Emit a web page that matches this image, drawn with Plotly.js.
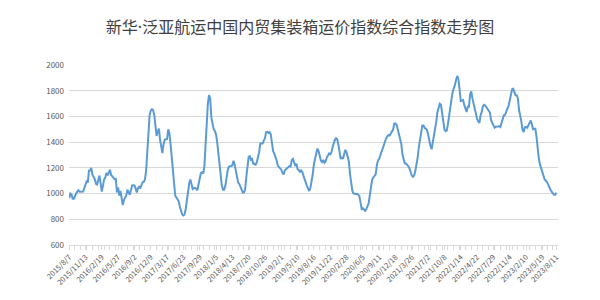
<!DOCTYPE html>
<html>
<head>
<meta charset="utf-8">
<script src="https://cdn.plot.ly/plotly-3.0.1.min.js"></script>
<style>html,body{margin:0;padding:0;background:#fff;}#chart{width:600px;height:300px;}</style>
</head>
<body>
<div id="chart"></div>
<script>
// Chart title
const chartTitle = '新华·泛亚航运中国内贸集装箱运价指数综合指数走势图';

// Weekly publication dates start (every Friday), first and last dates
const firstDate = '2015-08-07';
const lastDate = '2023-08-11';

// Composite index values, one per week
const indexValues = [
963,1000,993,960,960,985,1000,1015,1025,1014,1013,1013,1015,1043,1075,1095,1085,1178,1180,1200,
1145,1133,1112,1075,1070,1105,1140,1080,1015,1060,1110,1125,1160,1142,1158,1185,1145,1133,1128,1112,
1115,1010,1049,985,1020,960,910,950,976,985,1030,1002,990,1025,1064,1065,1063,1040,1008,1042,
1054,1040,1070,1088,1090,1110,1175,1290,1460,1610,1645,1655,1650,1610,1495,1448,1483,1505,1418,1368,
1314,1385,1418,1422,
1423,1500,1470,1385,1290,1150,1060,985,970,952,940,895,855,838,830,838,880,960,1000,1080,
1110,1055,1035,1042,1045,1038,1025,1070,1135,1160,1166,1155,1210,1380,1560,1700,1765,1740,1590,1545,
1500,1487,1460,1400,1300,1215,1120,1060,1029,1029,1060,1130,1180,1208,1215,1215,1218,1255,1225,1175,
1130,1085,1075,1055,1030,1008,1010,1030,1130,1220,1285,1290,1262,1270,1231,1231,1224,1245,1280,1320,
1390,1390,1390,1412,
1430,1478,1480,1472,1478,1460,1385,1330,1310,1290,1258,1218,1205,1198,1186,1162,1148,1180,1192,1198,
1205,1213,1210,1260,1270,1235,1215,1232,1190,1184,1166,1180,1170,1140,1110,1082,1060,1040,1020,1045,
1095,1150,1230,1267,1320,1350,1330,1280,1255,1245,1262,1240,1250,1280,1295,1312,1305,1320,1360,1395,
1418,1430,1422,1380,1300,1268,1285,1270,1310,1340,1320,1290,1250,1150,1065,1020,1000,996,996,997,
993,980,935,880,
885,875,866,880,900,925,990,1060,1110,1125,1137,1150,1220,1258,1270,1310,1325,1350,1380,1410,
1430,1445,1455,1452,1468,1478,1500,1545,1545,1535,1495,1460,1420,1385,1301,1268,1235,1234,1225,1213,
1195,1165,1140,1130,1140,1175,1220,1280,1360,1420,1480,1530,1530,1510,1505,1495,1460,1410,1370,1345,
1395,1460,1500,1560,1635,1672,1698,1690,1620,1550,1500,1485,1490,1540,1610,1700,1730,1790,1815,1845,
1885,1915,1890,1815,
1720,1725,1728,1690,1655,1635,1675,1675,1770,1795,1740,1700,1665,1600,1580,1560,1550,1610,1635,1680,
1690,1685,1670,1650,1646,1630,1570,1548,1530,1512,1520,1524,1522,1525,1518,1550,1575,1610,1612,1630,
1660,1680,1730,1775,1810,1815,1795,1765,1765,1740,1650,1610,1560,1495,1478,1515,1518,1512,1533,1548,
1568,1540,1500,1505,1505,1440,1320,1270,1225,1195,1160,1130,1110,1100,1090,1070,1045,1030,1015,1005,
990,990,1006
];

// Axis tick labels shown on the category axis
const tickLabels = [
'2015/8/7','2015/11/13','2016/2/19','2016/5/27','2016/9/2','2016/12/9','2017/3/17','2017/6/23',
'2017/9/29','2018/1/5','2018/4/13','2018/7/20','2018/10/26','2019/2/1','2019/5/10','2019/8/16',
'2019/11/22','2020/2/28','2020/6/5','2020/9/11','2020/12/18','2021/3/26','2021/7/2','2021/10/8',
'2022/1/14','2022/4/22','2022/7/29','2022/11/4','2023/2/10','2023/5/19','2023/8/11'
];

const yTicks = [600, 800, 1000, 1200, 1400, 1600, 1800, 2000];

// Weekly date categories (each Friday from firstDate)
function isoDate(d){
  const m = d.getUTCMonth()+1, day = d.getUTCDate();
  return d.getUTCFullYear() + '-' + (m<10?'0':'') + m + '-' + (day<10?'0':'') + day;
}
const weekDates = [];
{
  const t0 = Date.parse(firstDate + 'T00:00:00Z');
  for (let i = 0; i < indexValues.length; i++) {
    weekDates.push(isoDate(new Date(t0 + i*7*86400000)));
  }
}
const tickVals = tickLabels.map(s => {
  const p = s.split('/');
  return p[0] + '-' + (p[1].length<2?'0':'') + p[1] + '-' + (p[2].length<2?'0':'') + p[2];
});

const trace = {
  x: weekDates,
  y: indexValues,
  type: 'scatter',
  mode: 'lines',
  line: {color: '#5B9BD5', width: 2},
  hoverinfo: 'x+y'
};

const layout = {
  width: 600, height: 300,
  margin: {l: 69, r: 42, t: 65, b: 55},
  paper_bgcolor: '#ffffff',
  plot_bgcolor: '#ffffff',
  showlegend: false,
  font: {family: '"Noto Sans CJK SC", "Noto Sans", sans-serif', color: '#595959'},
  title: {
    text: chartTitle,
    x: 0.5, xanchor: 'center',
    y: 0.91, yanchor: 'middle',
    font: {size: 16, color: '#404040', family: '"Noto Sans", "Noto Sans CJK SC", sans-serif'}
  },
  xaxis: {
    type: 'date',
    range: ['2015-08-06', '2023-08-21'],
    tickmode: 'array',
    tickvals: tickVals,
    ticktext: tickLabels,
    tickangle: -45,
    tickfont: {size: 7.5, color: '#595959'},
    showgrid: false,
    zeroline: false,
    showline: true,
    linecolor: '#d9d9d9',
    linewidth: 1,
    ticks: 'outside',
    ticklen: 4,
    tickcolor: '#d9d9d9',
    minor: {ticks: 'outside', ticklen: 4, tickcolor: '#d9d9d9', dtick: 35*86400000, tick0: '2015-08-07', showgrid: false}
  },
  yaxis: {
    range: [600, 2000],
    tickmode: 'array',
    tickvals: yTicks,
    ticktext: yTicks.map(String),
    tickfont: {size: 8, color: '#595959'},
    showgrid: true,
    gridcolor: '#d9d9d9',
    gridwidth: 1,
    zeroline: false,
    showline: false,
    ticks: '',
    ticklabelstandoff: 4
  }
};

Plotly.newPlot('chart', [trace], layout, {displayModeBar: false, staticPlot: true});
</script>
</body>
</html>
